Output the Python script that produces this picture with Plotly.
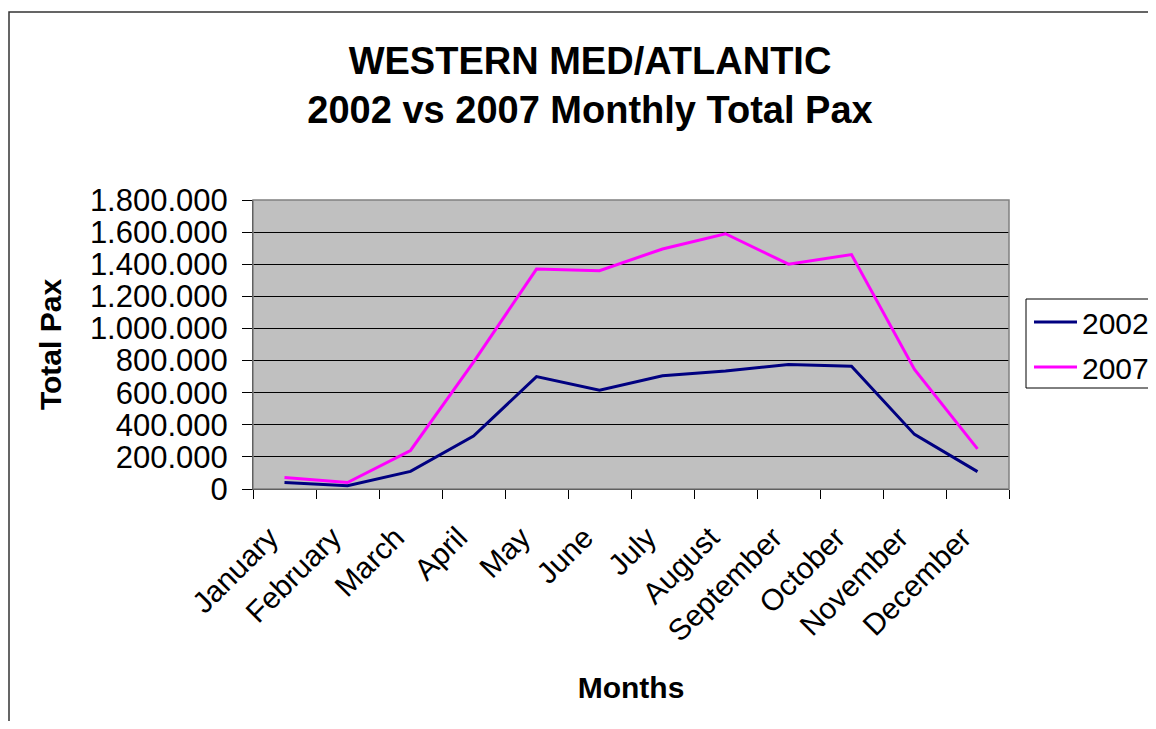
import plotly.graph_objects as go

months = ["January", "February", "March", "April", "May", "June", "July",
          "August", "September", "October", "November", "December"]
pax_2002 = [40000, 20000, 110000, 330000, 700000, 615000, 705000, 735000,
            775000, 765000, 340000, 108000]
pax_2007 = [72000, 40000, 240000, 790000, 1370000, 1360000, 1495000, 1590000,
            1400000, 1460000, 745000, 250000]
y_ticks = [0, 200000, 400000, 600000, 800000, 1000000, 1200000, 1400000,
           1600000, 1800000]

FONT = "Liberation Sans, Arial, sans-serif"
W, H = 1140, 713
OFF = 8  # page body offset
L, R, T, B = 253 - OFF, 1009 - OFF, 200 - OFF, 489 - OFF  # plot box in figure px
PW, PH = R - L, B - T


def px(xp):
    return (xp - OFF - L) / PW


def py(yp):
    return (B - (yp - OFF)) / PH


fig = go.Figure()
fig.add_trace(go.Scatter(x=months, y=pax_2002, mode="lines", name="2002",
                         legendgroup="a",
                         line=dict(color="#000080", width=3)))
fig.add_trace(go.Scatter(x=months, y=pax_2007, mode="lines", name="2007",
                         legendgroup="b",
                         line=dict(color="#FF00FF", width=3)))

fig.update_layout(
    width=W, height=H,
    margin=dict(l=L, r=W - R, t=T, b=H - B, autoexpand=False),
    paper_bgcolor="white",
    plot_bgcolor="#C0C0C0",
    separators=",.",
    font=dict(family=FONT, color="black", size=28),
    title=dict(
        text="<b>WESTERN MED/ATLANTIC<br>2002 vs 2007 Monthly Total Pax</b>",
        x=(590 - OFF) / W, xref="container", xanchor="center",
        y=1 - 66 / H, yref="container", yanchor="middle",
        font=dict(family=FONT, size=38, color="black"),
    ),
    showlegend=True,
    legend=dict(
        x=px(1029), xanchor="left",
        y=py(296), yanchor="top",
        bgcolor="rgba(0,0,0,0)", borderwidth=0,
        font=dict(family=FONT, size=30, color="black"),
        itemwidth=43,
        tracegroupgap=3,
    ),
)

fig.update_xaxes(
    type="category",
    range=[-0.5, 11.5],
    tickson="boundaries",
    ticks="outside", ticklen=9, tickcolor="black", tickwidth=1,
    tickangle=-45,
    tickfont=dict(family=FONT, size=30, color="black"),
    ticklabelstandoff=18,
    ticklabelshift=-15,
    showline=True, linecolor="black", linewidth=1,
    showgrid=False,
    title=dict(text="<b>Months</b>", font=dict(family=FONT, size=30, color="black"),
               standoff=30),
    automargin=False,
)
fig.update_yaxes(
    range=[0, 1800000],
    tickvals=y_ticks,
    tickformat=",d",
    ticks="outside", ticklen=10, tickcolor="black", tickwidth=1,
    tickfont=dict(family=FONT, size=31, color="black"),
    ticklabelstandoff=8,
    showline=True, linecolor="black", linewidth=1,
    showgrid=True, gridcolor="black", gridwidth=1,
    zeroline=False,
    title=dict(text="<b>Total Pax</b>", font=dict(family=FONT, size=30, color="black"),
               standoff=19),
    automargin=False,
)

# plot area border (gray top/right)
fig.add_shape(type="rect", xref="paper", yref="paper", x0=0, x1=1, y0=0, y1=1,
              line=dict(color="#808080", width=1.5), layer="above")
# legend box
fig.add_shape(type="rect", xref="paper", yref="paper",
              x0=px(1026), x1=px(1200), y0=py(388), y1=py(299),
              line=dict(color="black", width=1), fillcolor="white", layer="above")
# outer chart border
fig.add_shape(type="rect", xref="paper", yref="paper",
              x0=px(9), x1=px(1300), y0=py(900), y1=py(12),
              line=dict(color="#333333", width=1.5), layer="below")

fig.write_html("out.html")
